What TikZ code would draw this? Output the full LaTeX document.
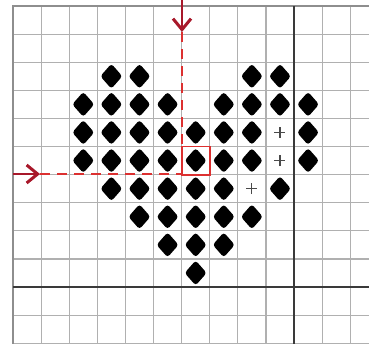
\documentclass[tikz,border=0pt]{standalone}
\usetikzlibrary{shapes.geometric,arrows.meta}
\definecolor{gridgray}{HTML}{B0B0B0}
\definecolor{edgegray}{HTML}{8E8E8E}
\definecolor{majorline}{HTML}{3A3A3A}
\definecolor{markred}{HTML}{DC3030}
\definecolor{arrowred}{HTML}{A8182A}
\definecolor{plusgray}{HTML}{4A4A4A}
\begin{document}
\begin{tikzpicture}[x=1pt,y=-1pt,
  gridline/.style={draw=gridgray, line width=1.2pt},
  edgeline/.style={draw=edgegray, line width=2pt},
  heavyline/.style={draw=majorline, line width=1.4pt},
  stitch/.style={diamond, fill=black, draw=none, inner sep=0pt, outer sep=0pt,
    minimum width=22pt, minimum height=25pt, rounded corners=3pt},
  plusline/.style={draw=plusgray, line width=1.1pt},
  marksquare/.style={draw=markred, line width=1.8pt, minimum size=28.1pt, inner sep=0pt},
  arrowline/.style={draw=arrowred, line width=2.2pt, -{Straight Barb[length=11pt, width=18pt, line width=3pt]}},
  dashline/.style={draw=markred, line width=2.4pt, dash pattern=on 10pt off 7pt}
]
\useasboundingbox (0,0) rectangle (369,343);
\fill[white] (0,0) rectangle (369,343);
\clip (0,0) rectangle (369,343);
\begin{scope}[shift={(13,6)}, x=28.1pt, y=-28.1pt]
  \foreach \i in {1,...,12} \draw[gridline] (\i,0) -- (\i,12.3);
  \foreach \j in {1,...,12} \draw[gridline] (0,\j) -- (13,\j);
  \draw[edgeline] (0,12.3) -- (0,0) -- (13,0);
  \draw[heavyline] (10,0) -- (10,12.3);
  \draw[heavyline] (0,10) -- (13,10);
  % heart of diamonds
  \foreach \r/\cols in {2/{3,4,8,9}, 3/{2,3,4,5,7,8,9,10}, 4/{2,3,4,5,6,7,8,10},
      5/{2,3,4,5,6,7,8,10}, 6/{3,4,5,6,7,9}, 7/{4,5,6,7,8}, 8/{5,6,7}, 9/{6}}
    \foreach \c in \cols
      \node[stitch] (d-\c-\r) at (\c+0.5,\r+0.5) {};
  % plus marks
  \foreach \c/\r in {9/4, 9/5, 8/6}
    \draw[plusline] (\c+0.5,\r+0.5) +(-5.5pt,0) -- +(5.5pt,0)
                    (\c+0.5,\r+0.5) +(0,-5.5pt) -- +(0,5.5pt);
  \node[marksquare] (sq) at (6.5,5.5) {};
\end{scope}
\coordinate (vstart) at (182,0);
\coordinate (vtip) at (182,32);
\coordinate (hstart) at (13,174);
\coordinate (htip) at (40,174);
\draw[dashline] (vtip) -- (vtip |- sq.north);
\draw[dashline] (htip) -- (htip -| sq.west);
\draw[arrowline] (vstart) -- (vtip);
\draw[arrowline] (hstart) -- (htip);
\end{tikzpicture}
\end{document}
